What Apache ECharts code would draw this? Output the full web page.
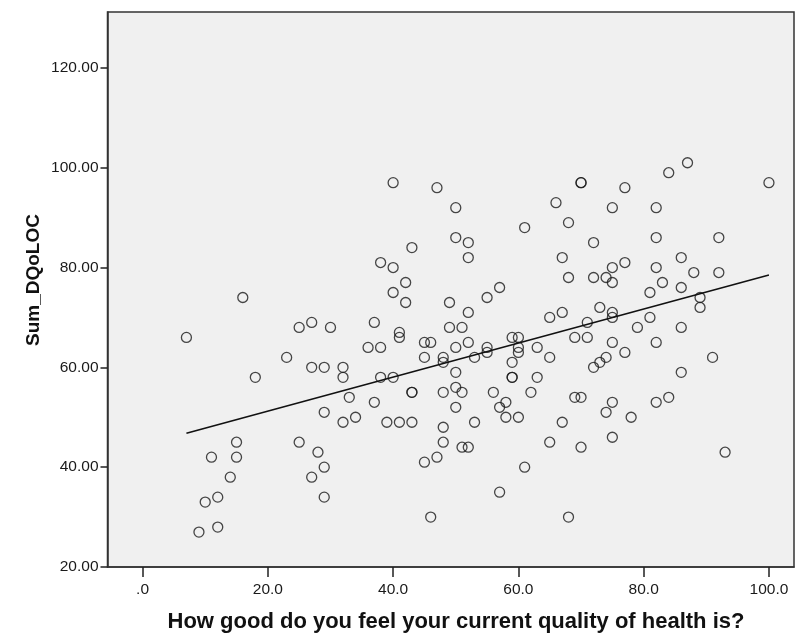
<!DOCTYPE html>
<html>
<head>
<meta charset="utf-8">
<script src="https://cdn.jsdelivr.net/npm/echarts@6/dist/echarts.min.js"></script>
<style>html,body{margin:0;padding:0;background:#fff}#c{width:795px;height:639px}</style>
</head>
<body>
<div id="c"></div>
<script>
// Data
var healthQuality = [7,9,10,11,12,12,14,15,15,16,18,23,25,25,27,27,27,28,29,29,29,29,30,32,32,32,33,34,36,37,37,38,38,38,39,40,40,40,40,41,41,41,42,42,43,43,43,43,45,45,45,46,46,47,47,48,48,48,48,48,49,49,50,50,50,50,50,50,51,51,51,52,52,52,52,52,53,53,55,55,55,56,57,57,57,58,58,59,59,59,59,60,60,60,60,61,61,62,63,63,65,65,65,66,67,67,67,68,68,68,69,69,70,70,70,70,71,71,72,72,72,73,73,74,74,74,75,75,75,75,75,75,75,75,77,77,77,78,79,81,81,82,82,82,82,82,83,84,84,86,86,86,86,87,88,89,89,91,92,92,93,100];
var sumDQoLOC =     [66,27,33,42,34,28,38,45,42,74,58,62,68,45,69,60,38,43,60,51,40,34,68,60,58,49,54,50,64,69,53,81,64,58,49,97,80,75,58,67,66,49,77,73,84,55,55,49,65,62,41,65,30,96,42,62,61,55,48,45,73,68,92,86,64,59,56,52,68,55,44,85,82,71,65,44,62,49,74,64,63,55,76,52,35,53,50,66,61,58,58,66,64,63,50,88,40,55,64,58,70,62,45,93,82,71,49,89,78,30,66,54,97,97,54,44,69,66,85,78,60,72,61,78,62,51,92,80,77,71,70,65,53,46,96,81,63,50,68,75,70,92,86,80,65,53,77,99,54,82,76,68,59,101,79,74,72,62,86,79,43,97];
// Linear fit line endpoints
var fitX = [7, 100];
var fitY = [46.8, 78.5];
var xTicks = [0, 20, 40, 60, 80, 100];
var yTicks = [20, 40, 60, 80, 100, 120];

var points = healthQuality.map(function (x, i) { return [x, sumDQoLOC[i]]; });
var fitLine = fitX.map(function (x, i) { return [x, fitY[i]]; });

var chart = echarts.init(document.getElementById('c'), null, {renderer: 'canvas'});
var font = '"Liberation Sans", Arial, sans-serif';
chart.setOption({
  animation: false,
  backgroundColor: '#ffffff',
  grid: {
    left: 107.5, right: 1, top: 12, bottom: 72,
    show: true, backgroundColor: '#f0f0f0', borderColor: '#333', borderWidth: 1.5
  },
  xAxis: {
    type: 'value', min: -5.6, max: 104,
    splitLine: {show: false},
    axisLine: {show: true, onZero: false, lineStyle: {color: '#333', width: 1.5}},
    axisTick: {show: true, customValues: xTicks, length: 10, lineStyle: {color: '#222', width: 1.5}},
    axisLabel: {
      customValues: xTicks, margin: 15, color: '#1a1a1a', fontFamily: font, fontSize: 15.5,
      formatter: function (v) { return v === 0 ? '.0' : v.toFixed(1); }
    }
  },
  yAxis: {
    type: 'value', min: 20, max: 131.2,
    splitLine: {show: false},
    axisLine: {show: true, onZero: false, lineStyle: {color: '#333', width: 1.5}},
    axisTick: {show: true, customValues: yTicks, length: 7, lineStyle: {color: '#222', width: 1.5}},
    axisLabel: {
      customValues: yTicks, margin: 9, color: '#1a1a1a', fontFamily: font, fontSize: 15.5,
      formatter: function (v) { return v.toFixed(2); }
    }
  },
  graphic: [
    {type: 'text', x: 456, y: 622, style: {
      text: 'How good do you feel your current quality of health is?',
      font: 'bold 22px ' + font, fill: '#111', align: 'center', verticalAlign: 'middle'
    }},
    {type: 'text', x: 34, y: 280, rotation: Math.PI / 2, style: {
      text: 'Sum_DQoLOC', font: 'bold 19px ' + font, fill: '#111',
      align: 'center', verticalAlign: 'middle'
    }}
  ],
  series: [
    {
      type: 'scatter', data: points, symbol: 'circle', symbolSize: 10,
      itemStyle: {color: 'rgba(0,0,0,0)', borderColor: '#1a1a1a', borderWidth: 1.3},
      z: 3
    },
    {
      type: 'line', data: fitLine, symbol: 'none',
      lineStyle: {color: '#111', width: 1.6}, z: 4
    }
  ]
});
</script>
</body>
</html>
